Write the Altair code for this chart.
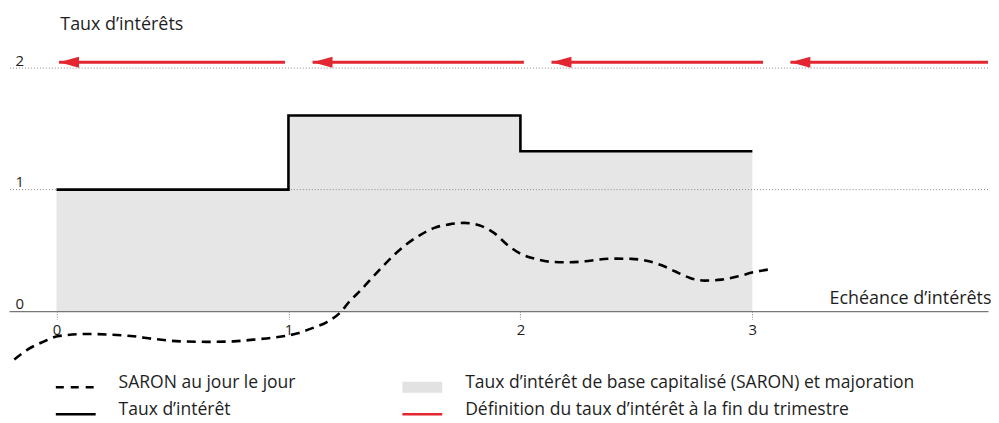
import altair as alt
import pandas as pd

# ---- data ----
step_x = [0, 1, 2, 3]
step_y = [1.0, 1.61, 1.315, 1.315]

saron_x = [-0.182, -0.125, -0.053, 0.004, 0.133, 0.219, 0.333, 0.419, 0.534, 0.648,
           0.763, 0.848, 0.977, 1.035, 1.106, 1.164, 1.221, 1.264, 1.314, 1.364,
           1.407, 1.457, 1.507, 1.571, 1.629, 1.693, 1.757, 1.822, 1.886, 1.943,
           1.994, 2.065, 2.137, 2.208, 2.280, 2.337, 2.409, 2.480, 2.538, 2.609,
           2.666, 2.731, 2.795, 2.866, 2.938, 3.003, 3.069]
saron_y = [-0.399, -0.317, -0.249, -0.207, -0.188, -0.193, -0.207, -0.229, -0.249, -0.253,
           -0.249, -0.235, -0.207, -0.185, -0.138, -0.092, -0.015, 0.081, 0.177, 0.281,
           0.369, 0.465, 0.547, 0.630, 0.685, 0.714, 0.726, 0.706, 0.644, 0.547,
           0.479, 0.430, 0.405, 0.402, 0.410, 0.424, 0.432, 0.430, 0.416, 0.377,
           0.328, 0.273, 0.251, 0.259, 0.286, 0.319, 0.342]

grid_y = [1, 2]
y_ticks = [0, 1, 2]
x_ticks = [0, 1, 2, 3]

arrow_tip = [0.011, 1.104, 2.134, 3.164]
arrow_tail = [0.985, 2.015, 3.046, 4.02]
arrow_level = [2.048, 2.048, 2.048, 2.048]

legend_labels = [
    "SARON au jour le jour",
    "Taux d\u2019intérêt",
    "Taux d\u2019intérêt de base capitalisé (SARON) et majoration",
    "Définition du taux d\u2019intérêt à la fin du trimestre",
]
legend_col = [0, 0, 1, 1]
legend_row = [0, 1, 0, 1]

FONT = "Open Sans"
TXT = "#1e1e1e"
RED = "#e3262f"
GRAY = "#e6e6e6"

step_df = pd.DataFrame({"x": step_x, "y": step_y})
saron_df = pd.DataFrame({"x": saron_x, "y": saron_y})
grid_df = pd.DataFrame({"y": grid_y})
arrow_df = pd.DataFrame({"tip": arrow_tip, "tail": arrow_tail, "level": arrow_level})
leg_df = pd.DataFrame({"label": legend_labels, "col": legend_col, "row": legend_row,
                       "key": list(range(len(legend_labels)))})

W = 983
xscale = alt.Scale(domain=[-0.2048, 4.0159], nice=False, zero=False)
yscale = alt.Scale(domain=[-0.4631, 2.4877], nice=False, zero=False)

x_axis = alt.Axis(
    values=x_ticks, format="d", orient="bottom", offset=-56.5,
    domain=True, domainColor="#777777", domainWidth=1.3,
    ticks=True, tickSize=8, tickColor="#777777", tickDash=[1, 1.5], tickWidth=1,
    grid=False, labelFontSize=15, labelColor=TXT, labelPadding=3, labelFont=FONT,
    title="Echéance d\u2019intérêts", titleFont=FONT, titleFontSize=18,
    titleFontWeight="normal", titleColor=TXT, titleAlign="right",
    titleBaseline="alphabetic", titleX=W + 3, titleY=-8,
)
y_axis = alt.Axis(
    values=y_ticks, format="d", orient="left", domain=False, ticks=False, tickSize=0, grid=False,
    labelAlign="left", labelPadding=-6, labelBaseline="alphabetic", labelOffset=-3,
    labelFontSize=15, labelColor=TXT, labelFont=FONT,
    title="Taux d\u2019intérêts", titleFont=FONT, titleFontSize=18,
    titleFontWeight="normal", titleColor=TXT, titleAngle=0, titleAlign="left",
    titleBaseline="alphabetic", titleX=51, titleY=21,
)

area = alt.Chart(step_df).mark_area(interpolate="step-after", color=GRAY).encode(
    x=alt.X("x:Q", scale=xscale, axis=x_axis),
    y=alt.Y("y:Q", scale=yscale, axis=y_axis),
)
grid = alt.Chart(grid_df).mark_rule(color="#888888", strokeDash=[1, 2], strokeWidth=1).encode(
    y=alt.Y("y:Q"),
)
step = alt.Chart(step_df).mark_line(interpolate="step-after", color="black", strokeWidth=2.6).encode(
    x="x:Q", y="y:Q",
)
saron = alt.Chart(saron_df).mark_line(interpolate="monotone", color="black",
                                      strokeWidth=2.6, strokeDash=[9, 6]).encode(
    x="x:Q", y="y:Q",
)
arrow_shaft = alt.Chart(arrow_df).mark_rule(color=RED, strokeWidth=3, clip=True).encode(
    x=alt.X("tail:Q"), x2="tip:Q", y=alt.Y("level:Q"),
)
arrow_head = alt.Chart(arrow_df).mark_point(
    shape="M-1,0L1,-0.55L1,0.55Z", filled=True, color=RED, opacity=1, size=400, xOffset=10,
).encode(x=alt.X("tip:Q"), y=alt.Y("level:Q"))

main = alt.layer(area, grid, step, saron, arrow_shaft, arrow_head).properties(width=W, height=360)

lx = alt.Scale(domain=[-0.1351, 2.6897], nice=False, zero=False)
ly = alt.Scale(domain=[-0.74, 1.0], nice=False, zero=False, reverse=True)

def sym(key, **kw):
    return alt.Chart(leg_df).transform_filter(alt.datum.key == key).mark_rule(x2Offset=40, **kw).encode(
        x=alt.X("col:Q", scale=lx, axis=None), x2="col:Q",
        y=alt.Y("row:Q", scale=ly, axis=None),
    )

leg_dash = sym(0, color="black", strokeWidth=2.6, strokeDash=[8, 7])
leg_line = sym(1, color="black", strokeWidth=2.6)
leg_rect = sym(2, color="#e2e2e2", strokeWidth=11)
leg_red = sym(3, color=RED, strokeWidth=2.6)
leg_text = alt.Chart(leg_df).mark_text(
    align="left", baseline="alphabetic", dx=63, dy=1, font=FONT, fontSize=17.6, color=TXT,
).encode(
    x=alt.X("col:Q", scale=lx, axis=None),
    y=alt.Y("row:Q", scale=ly, axis=None),
    text="label:N",
)
legend = alt.layer(leg_dash, leg_line, leg_rect, leg_red, leg_text).properties(width=W, height=47)

chart = alt.vconcat(main, legend, spacing=0, padding=0).configure(font=FONT).configure_view(
    strokeWidth=0, stroke="transparent"
)

chart.save("out.html", embed_options={"renderer": "svg", "actions": False})
